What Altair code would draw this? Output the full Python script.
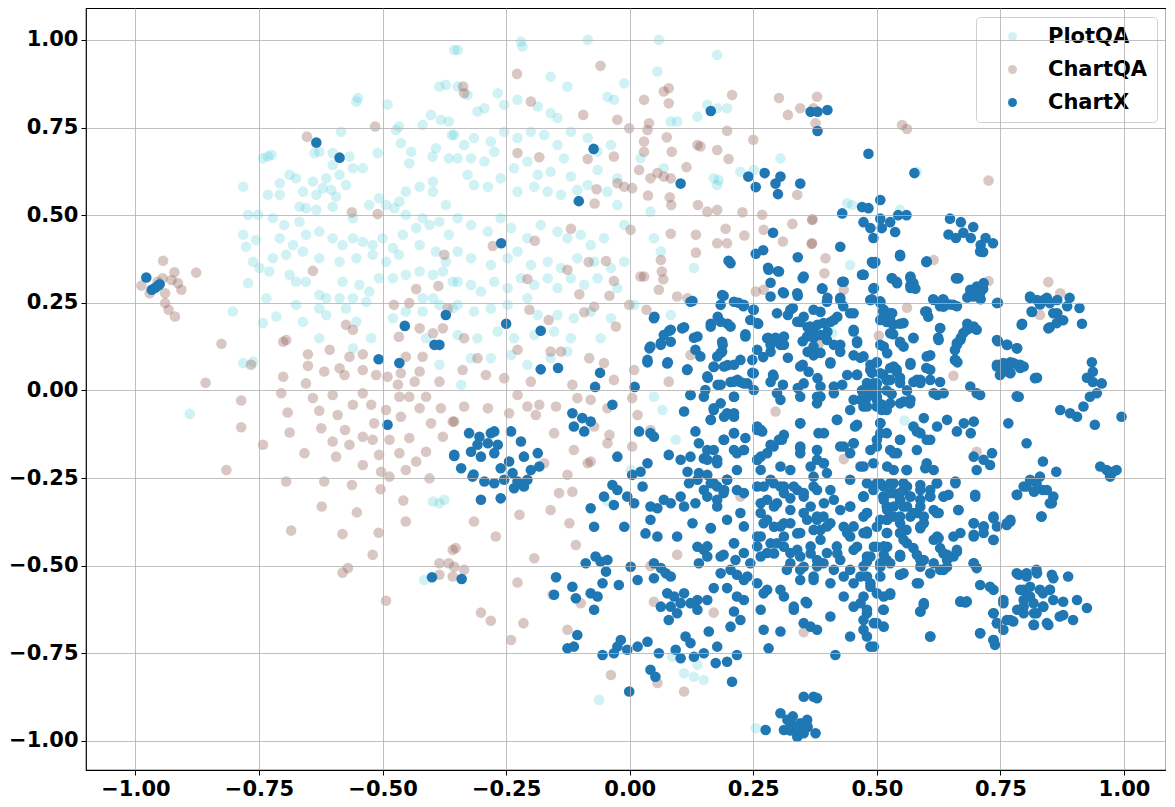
import altair as alt
import pandas as pd

SERIES = ["PlotQA", "ChartQA", "ChartX"]
COLORS = ["rgba(23,190,207,0.20)", "rgba(140,86,75,0.33)", "rgba(31,119,180,1)"]
TICKS = [-1.0, -0.75, -0.5, -0.25, 0.0, 0.25, 0.5, 0.75, 1.0]

PLOTQA_PTS = [
    (-0.355,0.971),(-0.385,0.867),(-0.372,0.872),(-0.55,0.834),(-0.553,0.824),(-0.49,0.816),
    (-0.402,0.786),(-0.382,0.772),(-0.366,0.767),(-0.419,0.757),(-0.36,0.729),(-0.473,0.743),(-0.467,0.753),
    (-0.584,0.738),(-0.463,0.705),(-0.442,0.681),(-0.446,0.648),(-0.399,0.667),(-0.392,0.691),(-0.366,0.662),
    (-0.51,0.677),(-0.638,0.677),(-0.628,0.681),(-0.601,0.677),(-0.567,0.667),(-0.56,0.634),(-0.54,0.634),
    (-0.601,0.643),(-0.587,0.615),(-0.614,0.605),(-0.742,0.662),(-0.732,0.667),(-0.725,0.672),(-0.782,0.581),
    (-0.708,0.591),(-0.688,0.615),(-0.675,0.605),(-0.641,0.596),(-0.621,0.577),(-0.634,0.558),(-0.604,0.572),
    (-0.594,0.553),(-0.661,0.567),(-0.708,0.558),(-0.732,0.558),(-0.574,0.586),
    (-0.668,0.524),(-0.655,0.52),(-0.634,0.515),(-0.601,0.524),(-0.56,0.491),(-0.527,0.529),(-0.507,0.548),
    (-0.493,0.529),(-0.466,0.539),(-0.453,0.567),(-0.425,0.581),(-0.398,0.596),(-0.398,0.567),(-0.372,0.529),
    (-0.419,0.491),(-0.453,0.501),(-0.476,0.52),
    (-0.772,0.501),(-0.752,0.501),(-0.782,0.444),(-0.776,0.41),(-0.756,0.429),(-0.722,0.491),(-0.699,0.472),(-0.668,0.481),
    (-0.708,0.434),(-0.681,0.415),(-0.655,0.444),(-0.628,0.453),(-0.601,0.434),(-0.581,0.415),(-0.56,0.434),
    (-0.54,0.424),(-0.52,0.415),(-0.5,0.434),(-0.479,0.406),(-0.459,0.444),(-0.432,0.463),(-0.405,0.472),
    (-0.385,0.481),(-0.366,0.444),(-0.425,0.415),(-0.392,0.396),(-0.372,0.367),(-0.467,0.387),(-0.493,0.367),
    (-0.52,0.387),(-0.553,0.377),(-0.587,0.367),(-0.628,0.377),(-0.661,0.396),(-0.695,0.387),(-0.722,0.377),
    (-0.749,0.349),(-0.729,0.339),(-0.762,0.367),(-0.772,0.306),
    (-0.688,0.33),(-0.675,0.31),(-0.655,0.31),(-0.628,0.272),(-0.614,0.263),(-0.581,0.31),(-0.547,0.301),
    (-0.527,0.282),(-0.507,0.32),(-0.479,0.32),(-0.453,0.33),(-0.425,0.339),(-0.398,0.33),(-0.378,0.339),
    (-0.358,0.31),(-0.56,0.263),(-0.533,0.253),(-0.587,0.263),(-0.628,0.234),(-0.614,0.215),(-0.574,0.234),
    (-0.419,0.263),(-0.398,0.263),(-0.385,0.244),(-0.358,0.234),(-0.453,0.225),(-0.479,0.206),(-0.419,0.225),
    (-0.412,0.149),(-0.385,0.073),(-0.553,0.196),(-0.523,0.149),(-0.56,0.12),(-0.628,0.149),(-0.661,0.196),
    (-0.675,0.244),(-0.715,0.211),(-0.735,0.263),(-0.742,0.192),(-0.803,0.225),(-0.782,0.078),(-0.762,0.082),
    (-0.348,0.971),(-0.22,0.995),(-0.217,0.981),(-0.085,1.0),(0.059,1.0),(0.177,0.957),(0.056,0.91),
    (-0.011,0.876),(-0.16,0.895),(-0.126,0.867),(-0.045,0.838),(-0.032,0.829),(-0.267,0.848),(-0.254,0.815),
    (-0.294,0.805),(-0.308,0.796),(-0.227,0.829),(-0.186,0.81),(-0.16,0.791),(-0.146,0.777),(-0.348,0.867),
    (-0.328,0.843),(0.083,0.767),(0.096,0.767),(0.137,0.781),(0.157,0.815),(0.177,0.805),(0.197,0.805),
    (-0.355,0.729),(-0.335,0.7),(-0.315,0.72),(-0.281,0.71),(-0.274,0.681),(-0.254,0.738),(-0.227,0.72),
    (-0.2,0.738),(-0.173,0.729),(-0.146,0.7),(-0.119,0.738),(-0.085,0.72),(-0.065,0.681),(-0.038,0.7),
    (-0.348,0.662),(-0.321,0.662),(-0.294,0.653),(-0.234,0.634),(-0.207,0.653),(-0.186,0.615),(-0.16,0.624),
    (-0.133,0.662),(-0.119,0.61),(-0.065,0.629),(-0.085,0.586),(-0.025,0.605),(-0.328,0.615),(-0.315,0.586),
    (-0.287,0.581),(-0.261,0.605),(-0.227,0.567),(-0.193,0.581),(-0.166,0.567),(-0.139,0.558),(-0.106,0.572),
    (-0.045,0.567),(-0.025,0.529),(0.042,0.51),(0.022,0.662),(0.069,0.634),(0.17,0.605),(0.177,0.586),
    (0.224,0.624),(0.251,0.629),(0.305,0.662),
    (-0.348,0.491),(-0.321,0.472),(-0.287,0.453),(-0.261,0.491),(-0.24,0.463),(-0.207,0.434),(-0.18,0.472),
    (-0.146,0.453),(-0.126,0.434),(-0.099,0.444),(-0.079,0.415),(-0.052,0.434),(-0.011,0.472),(-0.348,0.396),
    (-0.321,0.377),(-0.281,0.358),(-0.247,0.377),(-0.227,0.396),(-0.2,0.358),(-0.166,0.367),(-0.139,0.349),
    (-0.106,0.377),(-0.072,0.367),(-0.038,0.349),(-0.011,0.367),(0.049,0.434),(0.063,0.396),
    (-0.348,0.31),(-0.321,0.301),(-0.301,0.282),(-0.274,0.31),(-0.247,0.292),(-0.22,0.32),(-0.193,0.301),
    (-0.166,0.32),(-0.146,0.292),(-0.119,0.32),(-0.092,0.301),(-0.065,0.32),(-0.025,0.292),(-0.348,0.244),
    (-0.315,0.225),(-0.281,0.234),(-0.247,0.244),(-0.207,0.263),(-0.186,0.215),(-0.146,0.215),(-0.113,0.206),
    (-0.079,0.225),(-0.038,0.206),(0.009,0.244),(0.13,0.349),(0.083,0.215),
    (-0.348,0.158),(-0.308,0.149),(-0.267,0.168),(-0.234,0.149),(-0.193,0.158),(-0.153,0.168),(-0.119,0.149),
    (-0.059,0.149),(-0.321,0.092),(-0.281,0.092),(-0.24,0.101),(-0.207,0.073),(-0.16,0.092),(-0.126,0.111),
    (-0.341,0.016),
    (0.44,0.534),(0.45,0.529),(0.547,0.515),(0.446,0.358),(0.581,0.624),(0.41,0.164),
    (0.049,-0.018),(0.066,-0.056),(0.093,-0.141),(0.002,-0.227),(-0.045,-0.317),(0.086,-0.76),(0.11,-0.807),
    (0.13,-0.817),(0.15,-0.826),(0.137,-0.783),(-0.062,-0.883),(0.255,-0.964),
    (-0.89,-0.067),(-0.398,-0.317),(-0.385,-0.322),(-0.375,-0.312),(-0.416,-0.541),(0.556,-0.086),(0.18,0.6),
]

CHARTQA_PTS = [
    (-0.944,0.37),(-0.921,0.337),(-0.877,0.336),(-0.988,0.299),(-0.971,0.277),(-0.955,0.31),(-0.945,0.32),
    (-0.927,0.315),(-0.914,0.306),(-0.907,0.287),(-0.94,0.249),(-0.933,0.23),(-0.92,0.211),(-0.94,0.277),
    (-0.826,0.133),(-0.858,0.022),(-0.766,0.073),(-0.653,0.724),(-0.515,0.753),(-0.562,0.508),(-0.51,0.503),
    (-0.641,0.341),(-0.432,0.289),(-0.387,0.298),(-0.375,0.387),(-0.368,0.234),(-0.477,0.244),(-0.446,0.249),
    (-0.425,0.177),(-0.398,0.163),(-0.378,0.177),(-0.56,0.173),(-0.574,0.187),(-0.701,0.139),(-0.695,0.144),
    (-0.607,0.116),(-0.651,0.103),(-0.651,0.07),(-0.618,0.054),(-0.567,0.096),(-0.54,0.103),(-0.467,0.153),
    (-0.453,0.096),(-0.419,0.096),(-0.425,0.054),(-0.463,0.049),(-0.587,0.063),(-0.577,0.044),(-0.54,0.058),
    (-0.513,0.044),(-0.49,0.039),(-0.701,0.039),(-0.655,0.02),(-0.469,0.017),(-0.435,0.025),(-0.385,0.025),
    (-0.786,-0.029),(-0.786,-0.105),(-0.816,-0.227),(-0.742,-0.155),(-0.705,-0.008),(-0.692,-0.063),
    (-0.688,-0.12),(-0.658,-0.179),(-0.641,-0.022),(-0.628,-0.058),(-0.624,-0.108),(-0.601,-0.146),
    (-0.594,-0.189),(-0.591,-0.07),(-0.576,-0.113),(-0.567,-0.155),(-0.56,-0.041),(-0.54,-0.213),
    (-0.54,-0.132),(-0.523,-0.041),(-0.52,-0.141),(-0.517,-0.094),(-0.507,-0.184),(-0.503,-0.232),
    (-0.493,-0.056),(-0.486,-0.141),(-0.466,-0.179),(-0.463,-0.075),(-0.446,-0.136),(-0.425,-0.051),
    (-0.412,-0.175),(-0.405,-0.251),(-0.402,-0.094),(-0.378,-0.132),(-0.382,-0.051),(-0.358,-0.089),
    (-0.432,-0.203),(-0.453,-0.227),(-0.486,-0.246),(-0.695,-0.26),(-0.618,-0.26),(-0.562,-0.27),
    (-0.623,-0.331),(-0.552,-0.348),(-0.504,-0.282),(-0.458,-0.314),(-0.453,-0.374),(-0.685,-0.4),
    (-0.581,-0.41),(-0.508,-0.406),(-0.52,-0.469),(-0.57,-0.507),(-0.581,-0.52),(-0.493,-0.6),
    (-0.385,-0.493),(-0.366,-0.493),(-0.385,-0.526),(-0.358,-0.531),(-0.358,-0.455),(-0.601,-0.013),
    (-0.54,-0.008),(-0.466,-0.018),(-0.446,-0.018),(-0.412,-0.018),
    (-0.059,0.926),(-0.228,0.903),(-0.337,0.867),(-0.335,0.848),(-0.2,0.824),(-0.094,0.786),(0.029,0.829),
    (0.079,0.819),(0.079,0.862),(0.069,0.853),(0.207,0.843),(0.302,0.834),(0.32,0.786),(0.345,0.805),
    (-0.025,0.772),(-0.001,0.748),(0.039,0.762),(0.197,0.741),(0.25,0.715),(-0.227,0.677),(-0.183,0.665),
    (-0.085,0.66),(-0.032,0.667),(0.029,0.71),(0.029,0.681),(0.075,0.722),(0.085,0.681),(0.115,0.637),
    (0.137,0.7),(0.143,0.696),(0.177,0.686),(0.2,0.66),(0.019,0.629),(0.042,0.605),(0.056,0.62),(0.069,0.61),
    (0.083,0.605),(-0.025,0.591),(-0.011,0.581),(0.005,0.577),(-0.067,0.574),(-0.071,0.533),(0.037,0.556),
    (0.081,0.551),(0.084,0.529),(0.138,0.529),(0.157,0.51),(0.177,0.515),(0.228,0.508),(0.268,0.501),
    (0.339,0.558),(0.37,0.488),(0.329,0.475),(0.31,0.425),(0.368,0.418),(0.271,0.458),(0.194,0.461),
    (0.083,0.447),(0.134,0.444),(0.177,0.42),(0.197,0.42),(0.232,0.442),(0.134,0.393),(0.063,0.372),
    (0.065,0.339),(0.022,0.325),(0.029,0.325),(0.068,0.317),(0.059,0.287),(-0.032,0.312),(0.096,0.268),
    (0.117,0.263),(0.255,0.282),(0.271,0.287),(0.002,0.458),(-0.119,0.461),(-0.192,0.427),(-0.277,0.412),
    (-0.207,0.318),(-0.126,0.344),(-0.083,0.366),(-0.048,0.369),(-0.102,0.274),(-0.041,0.27),(-0.072,0.239),
    (-0.092,0.223),(-0.028,0.182),(-0.001,0.244),(0.034,0.23),(-0.164,0.201),(-0.203,0.23),(-0.139,0.111),
    (-0.227,0.116),(-0.335,0.149),(-0.308,0.092),(-0.291,0.044),(-0.254,0.035),(-0.16,0.111),(-0.116,0.016),
    (-0.082,0.092),(-0.052,0.078),(-0.032,0.03),(0.009,0.058),(0.079,0.025),(0.123,0.101),(-0.2,0.025),
    (-0.338,0.058),(0.036,0.743),
    (-0.335,-0.046),(-0.355,-0.089),(-0.287,-0.051),(-0.244,-0.065),(-0.227,-0.013),(-0.207,-0.046),
    (-0.183,-0.041),(-0.19,-0.07),(-0.153,-0.122),(-0.149,-0.046),(-0.106,-0.022),(-0.079,-0.027),
    (-0.045,-0.051),(-0.072,-0.103),(-0.041,-0.127),(-0.045,-0.151),(0.005,-0.022),(0.016,-0.07),
    (0.005,-0.16),(0.042,-0.113),(-0.113,-0.17),(-0.079,-0.203),(-0.085,-0.208),(-0.126,-0.241),
    (-0.143,-0.293),(-0.116,-0.289),(-0.16,-0.341),(-0.223,-0.355),(-0.315,-0.374),(-0.271,-0.417),
    (-0.122,-0.379),(-0.109,-0.441),(-0.193,-0.479),(-0.352,-0.45),(-0.355,-0.503),(-0.335,-0.512),
    (-0.227,-0.548),(-0.156,-0.583),(-0.099,-0.607),(-0.301,-0.634),(-0.281,-0.657),(-0.215,-0.664),
    (-0.24,-0.712),(-0.126,-0.683),(-0.038,-0.812),(0.11,-0.859),(0.056,-0.835),(0.042,-0.501),
    (0.049,-0.603),(0.17,-0.634),(0.224,-0.303),(0.295,-0.06),(0.352,-0.69),(-0.173,-0.208),(0.096,-0.469),
    (0.379,0.838),(0.372,0.805),(0.376,0.762),(0.551,0.757),(0.561,0.746),(0.726,0.599),(0.369,0.486),
    (0.369,0.42),(0.396,0.377),(0.394,0.334),(0.433,0.287),(0.615,0.372),(0.726,0.312),(0.847,0.309),
    (0.871,0.277),(0.83,0.215),(0.561,0.236),(0.504,0.156),(0.382,0.13),(0.655,0.042),(0.433,-0.196),
    (0.702,-0.175),
]

CHARTX_PTS = [
    (-0.978,0.322),(-0.967,0.287),(-0.96,0.293),(-0.954,0.299),(-0.951,0.303),
    (-0.634,0.707),(-0.587,0.664),(-0.455,0.184),(-0.372,0.215),(-0.395,0.13),(-0.385,0.13),(-0.508,0.089),
    (-0.466,0.078),(-0.49,-0.098),(-0.355,-0.187),(-0.4,-0.533),(-0.34,-0.538),
    (0.164,0.797),(-0.073,0.689),(-0.103,0.54),(-0.26,0.42),(0.103,0.59),(-0.25,0.19),(-0.18,0.17),
    (-0.18,0.06),(-0.145,0.064),(-0.06,0.05),(-0.07,0.01),(0.01,0.01),
    (0.366,0.795),(0.38,0.74),(0.38,0.795),(0.40,0.80),
    (0.273,0.62),(0.24,0.61),(0.255,0.58),(0.295,0.59),(0.305,0.61),(0.30,0.56),(0.345,0.59),
    (0.29,0.45),(0.255,0.39),(0.27,0.40),(0.34,0.38),(0.20,0.37),(0.28,0.35),(0.30,0.34),(0.35,0.32),
    (0.127,0.255),(0.19,0.27),(0.22,0.25),(0.23,0.24),(0.285,0.307),(0.31,0.28),(0.34,0.27),(0.33,0.235),
    (0.32,0.215),(0.05,0.21),(0.08,0.17),(0.11,0.18),(0.04,0.12),(0.063,0.13),(0.13,0.15),(0.036,0.08),
    (0.077,0.08),(0.117,0.06),(0.178,0.21),(0.198,0.19),(0.164,0.19),(0.188,0.13),(0.184,0.107),
    (0.17,0.067),(0.198,0.072),(0.218,0.03),(0.238,0.02),(0.234,0.16),(0.248,0.05),(0.25,0.23),(0.26,0.19),
    (0.28,0.15),(0.295,0.15),(0.305,0.13),(0.345,0.195),(0.36,0.18),(0.372,0.164),(0.35,0.14),(0.36,0.11),
    (0.372,0.10),(0.32,0.093),(0.35,0.073),(0.362,0.053),(0.38,0.035),(0.29,0.045),(0.285,0.024),
    (0.31,0.016),(0.34,0.007),(0.158,0.036),(0.178,0.016),(0.204,0.024),(0.224,0.024),(0.27,0.095),
    (0.285,0.11),
    (0.483,0.675),(0.576,0.62),
    (0.47,0.523),(0.483,0.52),(0.507,0.543),(0.473,0.48),(0.487,0.463),(0.493,0.435),(0.507,0.49),
    (0.51,0.463),(0.527,0.48),(0.537,0.452),(0.543,0.50),(0.56,0.50),(0.43,0.505),
    (0.648,0.49),(0.67,0.48),(0.645,0.445),(0.66,0.435),(0.695,0.466),(0.69,0.435),(0.71,0.415),
    (0.72,0.435),(0.735,0.42),(0.715,0.395),(0.675,0.45),
    (0.426,0.41),(0.547,0.383),(0.49,0.366),(0.497,0.366),(0.60,0.366),(0.47,0.33),(0.43,0.31),(0.53,0.32),
    (0.54,0.31),(0.568,0.30),(0.578,0.29),(0.568,0.32),(0.66,0.32),(0.665,0.32),(0.493,0.29),(0.39,0.29),
    (0.69,0.28),(0.70,0.27),(0.715,0.29),(0.71,0.26),(0.683,0.265),
    (0.614,0.26),(0.634,0.26),(0.648,0.245),(0.662,0.24),(0.628,0.24),(0.745,0.25),
    (0.81,0.264),(0.824,0.258),(0.844,0.264),(0.865,0.258),(0.89,0.264),(0.885,0.24),(0.91,0.235),
    (0.915,0.19),(0.877,0.2),(0.865,0.22),(0.85,0.18),(0.814,0.224),(0.83,0.245),(0.794,0.19),
    (0.49,0.26),(0.507,0.25),(0.513,0.225),(0.527,0.22),(0.52,0.195),(0.533,0.187),(0.547,0.19),
    (0.598,0.225),(0.604,0.21),(0.628,0.178),(0.624,0.15),
    (0.683,0.19),(0.69,0.178),(0.675,0.164),(0.67,0.15),(0.662,0.13),(0.658,0.115),
    (0.745,0.14),(0.764,0.13),(0.784,0.12),(0.658,0.087),(0.663,0.08),
    (0.743,0.073),(0.764,0.067),(0.77,0.08),(0.784,0.073),(0.756,0.053),(0.77,0.05),(0.824,0.036),(0.79,0.064),
    (0.935,0.08),(0.937,0.053),(0.925,0.036),(0.937,0.024),(0.955,0.02),
    (0.40,0.264),(0.426,0.264),(0.432,0.24),(0.42,0.21),(0.406,0.195),(0.386,0.224),(0.38,0.187),(0.40,0.167),
    (0.372,0.15),(0.413,0.13),(0.426,0.11),(0.446,0.22),(0.453,0.173),(0.46,0.14),(0.453,0.10),(0.467,0.093),
    (0.386,0.107),(0.406,0.08),(0.43,0.016),(0.46,0.045),
    (0.487,0.073),(0.50,0.08),(0.507,0.13),(0.513,0.045),(0.527,0.064),(0.54,0.053),(0.547,0.036),
    (0.568,0.073),(0.574,0.024),(0.588,0.03),(0.608,0.10),(0.60,0.064),(0.628,0.024),
    (0.517,0.215),(0.533,0.16),(0.547,0.135),(0.574,0.15),
    (0.49,0.05),(0.5,0.02),(0.52,0.03),(0.53,-0.01),(0.51,-0.04),(0.48,-0.02),(0.54,0.06),(0.5,0.08),
    (0.47,0.0),(0.49,0.0),(0.52,0.0),
    (-0.325,-0.122),(-0.304,-0.132),(-0.281,-0.122),(-0.274,-0.117),(-0.308,-0.155),(-0.287,-0.151),
    (-0.267,-0.155),(-0.321,-0.175),(-0.301,-0.189),(-0.274,-0.179),(-0.355,-0.184),(-0.341,-0.222),
    (-0.318,-0.246),(-0.294,-0.26),(-0.274,-0.265),(-0.261,-0.222),(-0.244,-0.203),(-0.237,-0.236),
    (-0.227,-0.26),(-0.214,-0.274),(-0.22,-0.146),(-0.214,-0.189),(-0.186,-0.179),(-0.183,-0.217),
    (-0.2,-0.227),(-0.24,-0.117),(-0.301,-0.312),(-0.261,-0.308),(-0.254,-0.255),(-0.207,-0.255),
    (-0.316,-0.24),(-0.234,-0.279),
    (-0.035,-0.041),(-0.116,-0.065),(-0.096,-0.079),(-0.079,-0.089),(-0.113,-0.103),(-0.092,-0.117),
    (-0.025,-0.189),(0.019,-0.117),(0.042,-0.122),(0.049,-0.132),(0.11,-0.06),
    (0.17,-0.051),(0.184,-0.037),(0.197,-0.065),(0.211,-0.075),(0.164,-0.084),(0.123,-0.013),(0.15,-0.018),
    (0.211,-0.018),(0.133,-0.117),(0.14,-0.151),(0.157,-0.17),(0.123,-0.189),(0.15,-0.194),(0.177,-0.198),
    (0.19,-0.141),(0.211,-0.122),(0.231,-0.17),(0.217,-0.179),
    (0.234,-0.136),(0.258,-0.103),(0.268,-0.117),(0.285,-0.155),(0.302,-0.141),(0.312,-0.127),(0.345,-0.094),
    (0.345,-0.165),(0.345,-0.179),(0.258,-0.198),
    (0.079,-0.184),(0.103,-0.198),(0.117,-0.232),(0.036,-0.208),(0.022,-0.232),(0.005,-0.241),(-0.035,-0.27),
    (-0.052,-0.303),(-0.025,-0.284),(-0.005,-0.303),(0.009,-0.322),(-0.032,-0.327),(-0.079,-0.336),
    (-0.011,-0.389),(-0.072,-0.389),(0.026,-0.274),
    (0.042,-0.331),(0.056,-0.336),(0.069,-0.312),(0.083,-0.322),(0.103,-0.303),(0.11,-0.331),(0.133,-0.322),
    (0.15,-0.284),(0.164,-0.265),(0.177,-0.274),(0.197,-0.255),(0.19,-0.293),(0.177,-0.312),(0.137,-0.255),
    (0.12,-0.265),(0.14,-0.236),(0.157,-0.241),
    (0.042,-0.369),(0.032,-0.408),(0.056,-0.417),(0.096,-0.417),(0.127,-0.379),(0.164,-0.393),
    (0.137,-0.446),(0.15,-0.455),(0.157,-0.474),(0.211,-0.436),(0.214,-0.484),(0.19,-0.469),(0.14,-0.493),
    (0.002,-0.503),(0.016,-0.541),(0.049,-0.493),(0.063,-0.507),(0.073,-0.522),(0.083,-0.531),(0.049,-0.536),
    (-0.069,-0.474),(-0.059,-0.488),(-0.045,-0.484),(-0.048,-0.517),(-0.055,-0.55),(-0.022,-0.555),
    (-0.089,-0.493),(-0.149,-0.533),(-0.116,-0.56),(-0.109,-0.593),(-0.079,-0.579),(-0.065,-0.588),
    (-0.072,-0.626),(-0.153,-0.583),
    (0.076,-0.579),(0.09,-0.588),(0.11,-0.579),(0.103,-0.607),(0.083,-0.617),(0.063,-0.617),(0.096,-0.636),
    (0.079,-0.655),(0.123,-0.607),(0.137,-0.598),(0.157,-0.598),(0.137,-0.626),
    (0.17,-0.564),(0.197,-0.564),(0.217,-0.526),(0.238,-0.531),(0.211,-0.631),(0.224,-0.655),(0.204,-0.674),
    (0.231,-0.598),(0.217,-0.588),
    (-0.126,-0.736),(-0.113,-0.731),(-0.106,-0.698),(-0.025,-0.731),(-0.018,-0.712),(-0.005,-0.74),
    (0.016,-0.731),(0.036,-0.717),(0.059,-0.75),(-0.055,-0.755),(-0.032,-0.75),(0.042,-0.797),(0.052,-0.817),
    (-0.001,-0.859),
    (0.093,-0.74),(0.103,-0.764),(0.113,-0.702),(0.13,-0.76),(0.15,-0.75),(0.16,-0.688),(0.177,-0.731),
    (0.174,-0.778),(0.197,-0.774),(0.217,-0.755),(0.207,-0.831),(0.123,-0.721),
    (0.271,-0.683),(0.305,-0.688),(0.281,-0.736),(0.265,-0.626),(0.332,-0.626),(0.356,-0.603),(0.352,-0.664),
    (0.366,-0.674),(0.312,-0.588),(0.271,-0.579),
    (0.275,-0.969),(0.305,-0.921),(0.319,-0.94),(0.332,-0.959),(0.345,-0.95),(0.359,-0.94),(0.352,-0.874),
    (0.372,-0.874),(0.312,-0.969),(0.339,-0.988),(0.325,-0.95),(0.352,-0.978),(0.325,-0.97),(0.34,-0.96),
    (0.33,-0.93),(0.36,-0.96),
    (0.258,-0.113),(0.265,-0.189),(0.258,-0.274),(0.285,-0.255),(0.305,-0.274),(0.312,-0.293),(0.339,-0.284),
    (0.352,-0.303),(0.372,-0.274),(0.265,-0.322),(0.292,-0.331),(0.325,-0.341),(0.352,-0.35),(0.379,-0.36),
    (0.271,-0.379),(0.292,-0.389),(0.312,-0.379),(0.339,-0.408),(0.372,-0.398),(0.258,-0.417),(0.285,-0.436),
    (0.312,-0.446),(0.339,-0.455),(0.366,-0.465),(0.265,-0.474),(0.292,-0.465),(0.325,-0.493),(0.352,-0.503),
    (0.379,-0.484),(0.244,-0.493),(0.231,-0.541),(0.258,-0.55),(0.278,-0.569),(0.305,-0.569),(0.345,-0.541),
    (0.372,-0.541),(0.332,-0.617),(0.359,-0.607),
    (0.386,-0.018),(0.42,-0.084),(0.46,-0.098),(0.467,-0.027),(0.48,-0.046),(0.5,-0.018),(0.51,-0.056),
    (0.527,-0.037),(0.554,-0.032),(0.568,-0.027),(0.595,-0.079),(0.622,-0.103),(0.642,-0.084),(0.662,-0.117),
    (0.676,-0.094),(0.69,-0.122),(0.696,-0.089),(0.709,-0.013),(0.622,-0.013),(0.581,-0.117),(0.601,-0.141),
    (0.787,-0.018),(0.766,-0.094),(0.803,-0.151),(0.871,-0.056),(0.891,-0.065),(0.905,-0.075),(0.918,-0.046),
    (0.931,-0.018),(0.945,-0.008),(0.941,-0.098),(0.995,-0.075),
    (0.952,-0.217),(0.965,-0.227),(0.978,-0.232),(0.985,-0.227),(0.972,-0.246),
    (0.696,-0.189),(0.716,-0.198),(0.733,-0.179),(0.729,-0.213),(0.702,-0.227),
    (0.81,-0.255),(0.836,-0.203),(0.863,-0.232),(0.83,-0.246),(0.797,-0.274),(0.784,-0.298),(0.836,-0.284),
    (0.857,-0.303),(0.85,-0.322),(0.833,-0.36),(0.818,-0.289),
    (0.696,-0.379),(0.716,-0.389),(0.736,-0.365),(0.763,-0.384),(0.77,-0.374),(0.736,-0.427),(0.696,-0.417),
    (0.655,-0.417),(0.622,-0.417),(0.635,-0.465),(0.642,-0.484),(0.635,-0.512),(0.662,-0.455),(0.696,-0.493),
    (0.655,-0.474),
    (0.787,-0.526),(0.803,-0.531),(0.824,-0.522),(0.797,-0.569),(0.81,-0.588),(0.836,-0.579),(0.85,-0.569),
    (0.857,-0.536),(0.887,-0.531),(0.797,-0.617),(0.818,-0.636),(0.836,-0.617),(0.877,-0.603),(0.905,-0.598),
    (0.925,-0.621),(0.897,-0.655),(0.847,-0.669),(0.818,-0.669),(0.784,-0.626),(0.877,-0.641),
    (0.756,-0.598),(0.736,-0.636),(0.743,-0.664),(0.756,-0.683),(0.709,-0.693),(0.736,-0.712),(0.739,-0.726),
    (0.77,-0.655),(0.669,-0.603),(0.679,-0.605),(0.595,-0.607),(0.588,-0.631),(0.608,-0.702),
    (0.379,-0.284),(0.392,-0.36),(0.386,-0.398),(0.406,-0.379),(0.433,-0.389),(0.446,-0.417),(0.42,-0.465),
    (0.392,-0.493),(0.372,-0.531),(0.406,-0.55),(0.433,-0.531),(0.453,-0.55),(0.467,-0.531),(0.487,-0.55),
    (0.5,-0.579),(0.527,-0.583),(0.433,-0.588),(0.453,-0.617),(0.467,-0.607),(0.48,-0.636),(0.5,-0.664),
    (0.473,-0.683),(0.446,-0.702),(0.487,-0.731),(0.406,-0.645),(0.379,-0.683),(0.513,-0.626),(0.416,-0.755),
    (0.379,-0.878),(0.376,-0.978),
    (0.507,-0.493),(0.521,-0.446),(0.5,-0.446),(0.547,-0.474),(0.547,-0.526),(0.585,-0.55),(0.487,-0.474),
    (0.5,-0.389),(0.521,-0.369),(0.534,-0.331),(0.547,-0.312),(0.554,-0.284),(0.568,-0.303),(0.581,-0.35),
    (0.56,-0.398),(0.595,-0.379),(0.588,-0.284),(0.554,-0.265),(0.527,-0.265),(0.513,-0.303),(0.5,-0.265),
    (0.473,-0.303),(0.446,-0.331),(0.473,-0.36),(0.48,-0.408),(0.46,-0.446),
    (0.622,-0.265),(0.635,-0.303),(0.659,-0.26),(0.608,-0.303),(0.598,-0.222),(0.699,-0.303),(0.665,-0.341),
    (0.625,-0.35),
    (0.547,-0.141),(0.527,-0.17),(0.541,-0.179),(0.56,-0.227),(0.521,-0.217),(0.487,-0.17),(0.493,-0.208),
    (0.453,-0.151),(0.433,-0.16),(0.379,-0.17),(0.392,-0.208),(0.372,-0.246),(0.406,-0.284),(0.446,-0.255),
    (0.467,-0.217),(0.507,-0.093),(0.507,-0.122),(0.5,-0.141),
]

# additional ChartX points read from the dense central regions
CHARTX_DENSE = [
    (0.170,-0.056),(0.191,-0.075),(0.211,-0.065),(0.164,-0.084),(0.211,-0.122),(0.191,-0.141),(0.170,-0.17),
    (0.157,-0.198),(0.177,-0.208),(0.211,-0.17),(0.231,-0.17),(0.217,-0.227),(0.197,-0.255),(0.170,-0.265),
    (0.157,-0.303),(0.177,-0.331),(0.191,-0.284),(0.217,-0.284),(0.231,-0.293),(0.197,-0.369),(0.224,-0.35),
    (0.231,-0.388),(0.164,-0.393),(0.157,-0.445),(0.184,-0.474),(0.211,-0.436),(0.231,-0.464),(0.204,-0.512),
    (0.184,-0.522),(0.265,-0.113),(0.258,-0.198),(0.278,-0.179),(0.291,-0.16),(0.308,-0.141),(0.265,-0.227),
    (0.305,-0.217),(0.325,-0.227),(0.345,-0.094),(0.345,-0.16),(0.382,-0.122),(0.393,-0.122),(0.419,-0.084),
    (0.456,-0.103),(0.379,-0.17),(0.379,-0.198),(0.366,-0.217),(0.393,-0.208),(0.399,-0.236),(0.426,-0.16),
    (0.453,-0.151),(0.446,-0.179),(0.473,-0.217),(0.305,-0.027),(0.379,-0.037),(0.446,-0.056),(0.473,-0.046),
    (0.5,-0.046),(0.52,-0.056),(0.547,-0.037),(0.567,-0.037),(0.271,-0.274),(0.291,-0.265),(0.312,-0.274),
    (0.332,-0.274),(0.278,-0.312),(0.298,-0.322),(0.325,-0.308),(0.352,-0.293),(0.366,-0.331),(0.393,-0.322),
    (0.413,-0.312),(0.426,-0.341),(0.379,-0.369),(0.399,-0.388),(0.359,-0.369),(0.345,-0.407),(0.325,-0.379),
    (0.305,-0.388),(0.278,-0.369),(0.265,-0.35),(0.265,-0.417),(0.258,-0.445),(0.278,-0.464),(0.298,-0.436),
    (0.312,-0.417),(0.325,-0.464),(0.345,-0.474),(0.366,-0.445),(0.386,-0.426),(0.399,-0.464),(0.419,-0.445),
    (0.44,-0.407),(0.453,-0.388),(0.473,-0.407),(0.446,-0.331),(0.473,-0.303),(0.493,-0.284),(0.48,-0.35),
    (0.426,-0.484),(0.453,-0.455),(0.48,-0.474),(0.318,-0.512),(0.345,-0.512),(0.379,-0.502),(0.413,-0.512),
    (0.446,-0.512),(0.473,-0.502),(0.507,-0.094),(0.52,-0.122),(0.547,-0.141),(0.574,-0.103),(0.588,-0.122),
    (0.608,-0.141),(0.581,-0.17),(0.534,-0.179),(0.534,-0.227),(0.561,-0.227),(0.615,-0.227),(0.601,-0.208),
    (0.5,-0.16),(0.514,-0.274),(0.534,-0.293),(0.547,-0.312),(0.52,-0.331),(0.561,-0.331),(0.547,-0.36),
    (0.52,-0.369),(0.574,-0.35),(0.588,-0.312),(0.608,-0.284),(0.615,-0.341),(0.52,-0.407),(0.547,-0.407),
    (0.561,-0.436),(0.588,-0.388),(0.615,-0.426),(0.514,-0.445),(0.52,-0.484),(0.547,-0.474),(0.588,-0.484),
    (0.615,-0.493),(0.554,-0.522),(0.608,-0.522),
    (0.204,0.363),(0.281,0.344),(0.302,0.339),(0.352,0.325),(0.389,0.291),(0.433,0.31),(0.473,0.33),
    (0.493,0.363),(0.123,0.253),(0.187,0.272),(0.184,0.244),(0.211,0.253),(0.231,0.244),(0.251,0.23),
    (0.285,0.268),(0.312,0.277),(0.339,0.277),(0.298,0.22),(0.325,0.23),(0.352,0.21),(0.372,0.23),
    (0.399,0.253),(0.426,0.258),(0.453,0.22),(0.487,0.258),(0.049,0.206),(0.083,0.173),(0.106,0.177),
    (0.164,0.182),(0.184,0.196),(0.204,0.182),(0.244,0.201),(0.258,0.192),(0.234,0.154),(0.278,0.149),
    (0.298,0.144),(0.312,0.154),(0.285,0.13),(0.312,0.13),(0.339,0.196),(0.365,0.182),(0.392,0.192),
    (0.413,0.201),(0.386,0.158),(0.359,0.154),(0.372,0.125),(0.399,0.144),(0.426,0.13),(0.453,0.168),
    (0.46,0.135),(0.042,0.125),(0.063,0.135),(0.083,0.139),(0.069,0.158),(0.137,0.154),(0.133,0.116),
    (0.143,0.097),(0.187,0.139),(0.187,0.111),(0.177,0.097),(0.258,0.116),(0.248,0.087),(0.224,0.087),
    (0.036,0.087),(0.076,0.077),(0.116,0.058),(0.17,0.068),(0.191,0.068),(0.211,0.073),(0.157,0.04),
    (0.184,0.016),(0.211,0.025),(0.231,0.02),(0.251,0.049),(0.291,0.04),(0.345,0.068),(0.372,0.106),
    (0.406,0.077),(0.352,0.02),(0.386,0.011),(0.413,0.011),(0.44,0.044),(0.46,0.044),(0.487,0.058),
    (0.493,0.02),(0.473,-0.008),(0.123,-0.013),(0.153,0.001),(0.211,-0.018),(0.251,0.001),(0.298,-0.008),
    (0.345,-0.018),(0.379,-0.018),(0.413,-0.008),(0.453,-0.027),(0.50,-0.027),
    (0.494,0.363),(0.547,0.387),(0.601,0.368),(0.473,0.33),(0.531,0.32),(0.541,0.306),(0.568,0.325),
    (0.574,0.306),(0.568,0.292),(0.494,0.292),(0.487,0.258),(0.507,0.254),(0.514,0.23),(0.531,0.22),
    (0.507,0.201),(0.527,0.201),(0.554,0.192),(0.601,0.225),(0.615,0.258),(0.635,0.258),(0.635,0.239),
    (0.655,0.244),(0.662,0.32),(0.689,0.287),(0.702,0.296),(0.716,0.306),(0.696,0.268),(0.709,0.277),
    (0.709,0.396),(0.743,0.249),(0.628,0.177),(0.625,0.144),(0.527,0.163),(0.547,0.139),(0.554,0.125),
    (0.574,0.149),(0.514,0.125),(0.521,0.106),(0.473,0.097),(0.601,0.097),(0.608,0.059),(0.659,0.087),
    (0.669,0.144),(0.682,0.173),(0.696,0.182),(0.702,0.173),(0.662,0.135),(0.743,0.144),(0.763,0.13),
    (0.783,0.12),(0.743,0.068),(0.756,0.078),(0.776,0.078),(0.79,0.073),(0.77,0.049),(0.797,0.068),
    (0.749,0.044),(0.82,0.035),(0.793,0.187),(0.81,0.268),(0.837,0.258),(0.85,0.249),(0.813,0.225),
    (0.857,0.22),(0.847,0.177),(0.864,0.192),(0.487,0.059),(0.48,0.021),(0.507,0.049),(0.534,0.068),
    (0.568,0.078),(0.581,0.03),(0.527,0.03),(0.547,0.021),(0.50,0.0),(0.561,0.0),(0.588,0.021),(0.608,0.03),
    (0.615,-0.008),(0.635,-0.008),(0.689,0.011),(0.702,-0.008),(0.783,-0.017),(0.473,-0.008),
    (0.48,-0.265),(0.507,-0.265),(0.534,-0.265),(0.561,-0.274),(0.588,-0.27),(0.621,-0.265),(0.659,-0.265),
    (0.473,-0.303),(0.514,-0.312),(0.527,-0.293),(0.547,-0.293),(0.568,-0.303),(0.554,-0.331),(0.521,-0.341),
    (0.534,-0.36),(0.568,-0.36),(0.547,-0.379),(0.507,-0.369),(0.48,-0.35),(0.48,-0.403),(0.521,-0.407),
    (0.547,-0.407),(0.554,-0.426),(0.588,-0.331),(0.595,-0.36),(0.588,-0.393),(0.608,-0.303),(0.635,-0.303),
    (0.645,-0.298),(0.621,-0.35),(0.665,-0.341),(0.699,-0.298),(0.783,-0.298),(0.803,-0.274),(0.823,-0.265),
    (0.844,-0.284),(0.854,-0.322),(0.833,-0.36),(0.696,-0.379),(0.716,-0.388),(0.736,-0.36),(0.743,-0.388),
    (0.763,-0.379),(0.77,-0.369),(0.736,-0.426),(0.696,-0.412),(0.716,-0.407),(0.625,-0.422),(0.628,-0.45),
    (0.642,-0.469),(0.662,-0.46),(0.669,-0.407),(0.574,-0.45),(0.581,-0.469),(0.595,-0.484),(0.547,-0.469),
    (0.514,-0.469),(0.494,-0.446),(0.48,-0.488),(0.507,-0.503),(0.527,-0.493),(0.588,-0.503),(0.628,-0.512),
    (0.642,-0.503),(0.696,-0.493),(0.702,-0.507),(0.547,-0.526),(0.581,-0.55),(0.48,-0.531),(0.487,-0.56),
    (0.507,-0.531),(0.527,-0.579),(0.514,-0.588),(0.473,-0.588),(0.48,-0.626),(0.514,-0.626),(0.473,-0.655),
    (0.494,-0.664),(0.514,-0.674),(0.48,-0.702),(0.494,-0.731),(0.595,-0.612),(0.588,-0.631),(0.608,-0.702),
    (0.669,-0.602),(0.682,-0.602),(0.709,-0.555),(0.729,-0.56),(0.736,-0.569),(0.709,-0.693),(0.736,-0.636),
    (0.743,-0.664),(0.763,-0.655),(0.776,-0.659),(0.756,-0.607),(0.736,-0.712),(0.783,-0.522),(0.803,-0.522),
    (0.823,-0.512),(0.854,-0.526),(0.79,-0.569),(0.81,-0.56),(0.83,-0.569),(0.85,-0.569),(0.797,-0.598),
    (0.817,-0.607),(0.837,-0.617),(0.857,-0.598),(0.797,-0.636),(0.823,-0.636),(0.817,-0.669),(0.844,-0.664),
    (0.87,-0.645),
]

rows = []
for name, pts in zip(SERIES, [PLOTQA_PTS, CHARTQA_PTS, CHARTX_PTS + CHARTX_DENSE]):
    for x, y in pts:
        rows.append({"x": x, "y": y, "dataset": name})
df = pd.DataFrame(rows)

axis_common = dict(
    values=TICKS, format=".2f", title=None, grid=True, gridColor="#b0b0b0", gridWidth=0.8,
    labelFont="DejaVu Sans", labelFontWeight="bold", labelFontSize=21, labelColor="black",
    tickColor="black", tickSize=5, tickWidth=1, domain=False, labelPadding=3, zindex=1,
)

legend = alt.Legend(
    title=None, orient="none", legendX=890, legendY=9, fillColor="rgba(255,255,255,0.85)",
    strokeColor="#d0d0d0", cornerRadius=4, padding=9,
    labelFont="DejaVu Sans", labelFontWeight="bold", labelFontSize=21, labelColor="black",
    labelOffset=25, rowPadding=11, symbolOffset=17, symbolSize=80, symbolType="circle",
    symbolStrokeWidth=0, symbolOpacity=1,
)

chart = alt.Chart(df).mark_circle(size=112, opacity=1).encode(
    x=alt.X("x:Q", scale=alt.Scale(domain=[-1.1, 1.085], nice=False, zero=False),
            axis=alt.Axis(**axis_common)),
    y=alt.Y("y:Q", scale=alt.Scale(domain=[-1.083, 1.091], nice=False, zero=False),
            axis=alt.Axis(**axis_common)),
    color=alt.Color("dataset:N", sort=SERIES, scale=alt.Scale(domain=SERIES, range=COLORS), legend=legend),
).properties(
    width=1080, height=762, padding={"left": 0, "top": 0, "right": 0, "bottom": 0},
).configure_view(stroke="black", strokeWidth=1.2)

chart.save("out.html", embed_options={"renderer": "svg", "actions": False})
